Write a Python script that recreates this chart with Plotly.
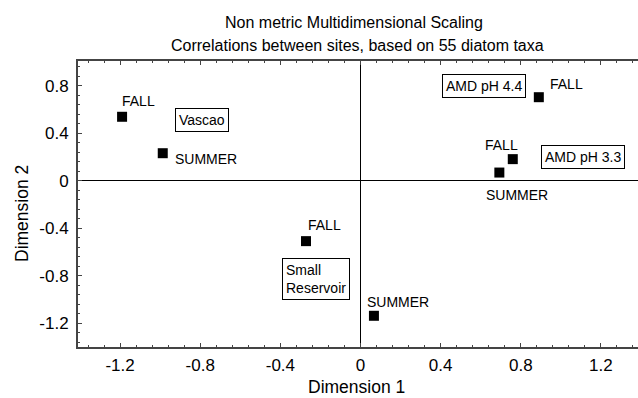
import plotly.graph_objects as go

# --- data -------------------------------------------------------------
sites = ["Vascao", "Vascao", "AMD pH 4.4", "AMD pH 3.3", "AMD pH 3.3",
         "Small Reservoir", "Small Reservoir"]
seasons = ["FALL", "SUMMER", "FALL", "FALL", "SUMMER", "FALL", "SUMMER"]
dim1 = [-1.19, -0.987, 0.89, 0.76, 0.693, -0.272, 0.067]
dim2 = [0.54, 0.233, 0.705, 0.183, 0.07, -0.508, -1.137]

tick_vals = [-1.2, -0.8, -0.4, 0, 0.4, 0.8, 1.2]
tick_text = ["-1.2", "-0.8", "-0.4", "0", "0.4", "0.8", "1.2"]
ytick_vals = [-1.2, -0.8, -0.4, 0, 0.4, 0.8]
ytick_text = ["-1.2", "-0.8", "-0.4", "0", "0.4", "0.8"]

# label offsets (pixels) for the season labels
season_shift = [(16, 16), (43, -6), (28, 13), (-11, 14), (18, -22), (18, 16), (24, 14)]
# site boxes: (site, index of anchor point, xshift, yshift, text)
site_boxes = [("Vascao", 0, 80, -3, "Vascao"),
              ("AMD pH 4.4", 2, -55, 11, "AMD pH 4.4"),
              ("AMD pH 3.3", 3, 70, 2, "AMD pH 3.3"),
              ("Small Reservoir", 5, 10, -38, "Small<br>Reservoir")]

FONT = "Arial, Liberation Sans, sans-serif"
W, H = 638, 398
L, R, T, B = 78, 0, 61, 51
PW, PH = W - L - R, H - T - B

fig = go.Figure()
fig.add_trace(go.Scatter(
    x=dim1, y=dim2, mode="markers",
    marker=dict(symbol="square", size=10, color="black"),
    hoverinfo="skip", showlegend=False))

ann = []
for i, (s, (dx, dy)) in enumerate(zip(seasons, season_shift)):
    ann.append(dict(x=dim1[i], y=dim2[i], text=s, showarrow=False,
                    xanchor="center", yanchor="middle",
                    xshift=dx, yshift=dy, font=dict(size=14, color="black", family=FONT)))
for site, idx, dx, dy, txt in site_boxes:
    ann.append(dict(x=dim1[idx], y=dim2[idx], text=txt, showarrow=False,
                    xanchor="center", yanchor="middle",
                    xshift=dx, yshift=dy, align="left",
                    bordercolor="black", borderwidth=1, borderpad=3, bgcolor="white",
                    font=dict(size=14, color="black", family=FONT)))


def px(xp, yp):
    return (xp - L) / PW, (H - B - yp) / PH


# titles
for txt, (xp, yp), size, ang in [
        ("Non metric Multidimensional Scaling", (354, 23), 16, 0),
        ("Correlations between sites, based on 55 diatom taxa", (357, 46), 16, 0),
        ("Dimension 1", (356, 387), 17.5, 0),
        ("Dimension 2", (22, 214), 17.5, -90)]:
    xx, yy = px(xp, yp)
    ann.append(dict(xref="paper", yref="paper", x=xx, y=yy, showarrow=False,
                    xanchor="center", yanchor="middle", text=txt, textangle=ang,
                    font=dict(size=size, color="black", family=FONT)))

fig.update_layout(
    width=W, height=H,
    margin=dict(l=L, r=R, t=T, b=B, autoexpand=False),
    paper_bgcolor="white", plot_bgcolor="white",
    font=dict(family=FONT, color="black"),
    annotations=ann,
    xaxis=dict(range=[-1.41, 1.385], tickvals=tick_vals, ticktext=tick_text,
               showgrid=False, zeroline=True, zerolinecolor="black", zerolinewidth=1,
               showline=True, linecolor="#444", linewidth=2, mirror="ticks",
               ticks="inside", ticklen=4, tickcolor="#444", ticklabelstandoff=2,
               tickfont=dict(size=17, color="black"), automargin=False,
               minor=dict(dtick=0.08, tick0=0, ticks="inside", ticklen=2, tickcolor="#444")),
    yaxis=dict(range=[-1.4, 1.01], tickvals=ytick_vals, ticktext=ytick_text,
               showgrid=False, zeroline=True, zerolinecolor="black", zerolinewidth=1,
               showline=True, linecolor="#444", linewidth=2, mirror=False,
               ticks="inside", ticklen=4, tickcolor="#444", ticklabelstandoff=4,
               tickfont=dict(size=17, color="black"), automargin=False,
               minor=dict(dtick=0.08, tick0=0, ticks="inside", ticklen=2, tickcolor="#444")),
)

fig.write_html("out.html", config={"displayModeBar": False},
               post_script="document.body.style.margin='0px';document.body.style.overflow='hidden';")
